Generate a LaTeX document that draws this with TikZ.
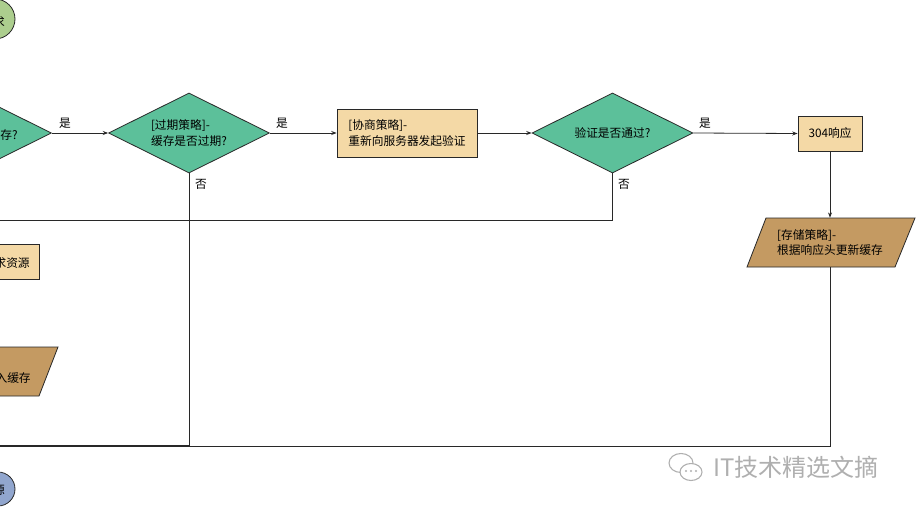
\documentclass[tikz,border=0pt]{standalone}
\usepackage{fontspec}
\setmainfont{Noto Sans CJK SC}
\usetikzlibrary{shapes.geometric,arrows.meta}
\definecolor{dgreen}{RGB}{92,192,154}
\definecolor{tanbox}{RGB}{244,217,166}
\definecolor{brownbox}{RGB}{196,154,98}
\definecolor{cgreen}{RGB}{172,206,142}
\definecolor{cblue}{RGB}{145,166,206}
\definecolor{ln}{RGB}{40,40,40}
\definecolor{wmgray}{RGB}{175,175,175}
\begin{document}
\begin{tikzpicture}[x=0.75pt,y=-0.75pt,
  every node/.style={font=\fontsize{8.8}{11.5}\selectfont, text=black},
  dec/.style={diamond, draw=ln, fill=dgreen, line width=0.6pt, minimum width=120.75pt, minimum height=60pt, inner sep=0pt, aspect=2, align=left},
  proc/.style={rectangle, draw=ln, fill=tanbox, line width=0.6pt, inner sep=0pt, align=left},
  para/.style={draw=ln, fill=brownbox, line width=0.6pt},
  flow/.style={draw=ln, line width=0.6pt},
  arr/.style={flow, -{Stealth[length=4pt,width=3pt]}},
  lbl/.style={inner sep=0pt},
]
\useasboundingbox (0,0) rectangle (916,514);
\fill[white] (0,0) rectangle (916,514);

% left partial elements
\node[circle, draw=ln, fill=cgreen, line width=0.6pt, minimum size=30pt, inner sep=0pt] (c0) at (-5,19) {};
\node[lbl, anchor=east] (c0t) at (5,22) {求};
\node[dec] (d0) at (-29,133) {};
\node[lbl, anchor=east] (d0t) at (18,135) {存?};
\node[proc, minimum width=75pt, minimum height=26.25pt] (b0) at (-11,262) {};
\node[lbl, anchor=east] (b0t) at (30,263) {求资源};
\draw[para] (-150,347) -- (58,347) -- (39,396) -- (-170,396) -- cycle;
\node[lbl, anchor=east] (w0t) at (31,378) {入缓存};
\node[circle, draw=ln, fill=cblue, line width=0.6pt, minimum size=25.5pt, inner sep=0pt] (c1) at (-2,489) {};
\node[lbl, anchor=east] (c1t) at (5,490) {源};

% main row
\node[dec] (d1) at (189,133) {[过期策略]-\\缓存是否过期?};
\node[proc, minimum width=105pt, minimum height=36pt] (p1) at (407,133) {[协商策略]-\\重新向服务器发起验证};
\node[dec] (d2) at (612.5,133) {验证是否通过?};
\node[proc, minimum width=48pt, minimum height=26.25pt] (p2) at (830,133.5) {304响应};

% storage parallelogram
\draw[para] (766,218) -- (915,218) -- (895,267) -- (747,267) -- cycle;
\node[minimum width=111.75pt, minimum height=36.75pt, inner sep=0pt, align=left] (s1) at (830,242.5) {[存储策略]-\\根据响应头更新缓存};

% labels
\node[lbl] (y0) at (65,123) {是};
\node[lbl] (y1) at (282,123) {是};
\node[lbl] (y2) at (705,123) {是};
\node[lbl] (n1) at (201,184) {否};
\node[lbl] (n2) at (624,184) {否};

% connectors
\coordinate (j1) at (189,446);
\coordinate (e1) at (0,446);
\coordinate (j2) at (612.5,220);
\coordinate (e2) at (0,220);
\coordinate (j3) at (830,446);
\draw[arr] (d0.east) -- (d1.west);
\draw[arr] (d1.east) -- (p1.west);
\draw[arr] (p1.east) -- (d2.west);
\draw[arr] (d2.east) -- (p2.west);
\draw[arr] (p2.south) -- (s1.north);
\draw[flow] (s1.south) -- (j3) -- (e1);
\draw[flow] (d1.south) -- (j1);
\draw[flow, line width=1.1pt] (j1) -- (e1);
\draw[flow] (d2.south) -- (j2) -- (e2);

% watermark
\draw[wmgray, line width=0.8pt] (681,463) ellipse (12 and 9.5);
\fill[white] (691,472) ellipse (11 and 8.5);
\draw[wmgray, line width=0.8pt] (691,472) ellipse (11 and 8.5);
\fill[wmgray] (686,471) circle (1.1) (691,471) circle (1.1) (696,471) circle (1.1);
\node[anchor=west, text=wmgray, font=\fontsize{18}{18}\selectfont, inner sep=0pt] (wm) at (713,467) {IT技术精选文摘};
\end{tikzpicture}
\end{document}
